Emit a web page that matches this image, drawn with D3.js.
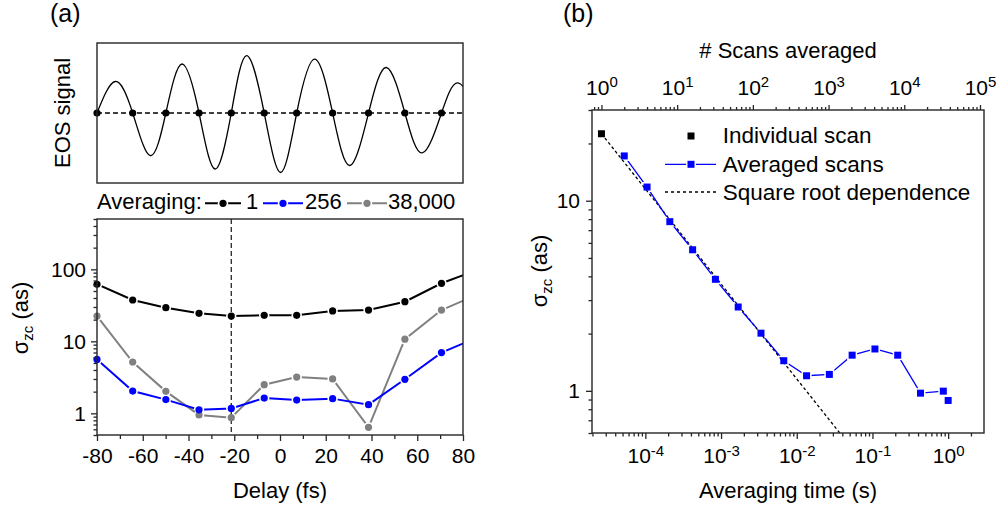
<!DOCTYPE html>
<html>
<head>
<meta charset="utf-8">
<script src="https://cdn.jsdelivr.net/npm/d3@7"></script>
<style>
  body { margin: 0; background: #fff; }
  svg { display: block; font-family: "Liberation Sans", Arial, sans-serif; }
</style>
</head>
<body>
<svg id="fig" width="1006" height="511"></svg>
<script>
// ---------------- Panel (a), top: EOS waveform ----------------
// zero crossings of the field (fs) and the extrema between them
const eosCrossings = [-80, -64.4, -49.9, -35.4, -21.3, -6.9, 7.3, 23.0, 38.7, 54.6, 70.6];
const eosExtremaDelay = [-72.0, -56.7, -42.9, -28.4, -14.6, 0.3, 15.2, 30.5, 46.5, 62.2, 77.8];
const eosExtremaSignal = [0.45, -0.61, 0.70, -0.80, 0.82, -0.85, 0.77, -0.75, 0.65, -0.57, 0.43];
const eosNextCrossing = 86.5; // first crossing past the right edge

// ---------------- Panel (a), bottom: jitter at each crossing ----------------
const crossingDelay = [-80, -64.4, -49.9, -35.4, -21.3, -6.9, 7.3, 23.0, 38.7, 54.6, 70.6, 86.5];
const sigmaAvg1 = [62, 37.5, 29.3, 24.5, 22.4, 23.0, 23.0, 26.4, 27.2, 35.5, 64, 99];
const sigmaAvg256 = [5.6, 2.04, 1.55, 1.12, 1.17, 1.63, 1.53, 1.60, 1.32, 2.97, 6.97, 11.4];
const sigmaAvg38000 = [22.4, 5.16, 2.02, 0.95, 0.87, 2.50, 3.19, 3.00, 0.64, 10.7, 27.2, 45];
const markedDelay = -21.3;
const averagingLabels = ["1", "256", "38,000"];
const averagingColors = ["#000000", "#0000ff", "#808080"];
const delayTicks = [-80, -60, -40, -20, 0, 20, 40, 60, 80];

// ---------------- Panel (b): jitter vs. number of averaged scans ----------------
const singleScans = [1];
const singleSigma = [22.5];
const averagedScans = [2, 4, 8, 16, 32, 64, 128, 256, 512, 1024, 2048, 4096, 8192, 16384, 32768, 38000];
const averagedSigma = [17.2, 11.8, 7.76, 5.52, 3.86, 2.76, 2.01, 1.44, 1.20, 1.22, 1.54, 1.66, 1.54, 0.972, 0.996, 0.89];
const sqrtScans = [1, 100000];
const sqrtSigma = [22.5, 0.0712];
const scanTime = 1 / 38000; // seconds per scan
const legendLabelsB = ["Individual scan", "Averaged scans", "Square root dependence"];

const W = 1006, H = 511;
const INK = "#262626";
const svg = d3.select("#fig");
const defs = svg.append("defs");

const isPow10 = v => Math.abs(Math.log10(v) - Math.round(Math.log10(v))) < 1e-9;

function clipRect(id, x, y, w, h) {
  defs.append("clipPath").attr("id", id)
    .append("rect").attr("x", x).attr("y", y).attr("width", w).attr("height", h);
}

// mask that opens a small gap in a line around each of its markers
function gapMask(id, pts, shape, size) {
  const m = defs.append("mask").attr("id", id)
    .attr("maskUnits", "userSpaceOnUse")
    .attr("x", 0).attr("y", 0).attr("width", W).attr("height", H);
  m.append("rect").attr("width", W).attr("height", H).attr("fill", "white");
  if (shape === "circle") {
    m.selectAll("circle").data(pts).join("circle")
      .attr("cx", d => d[0]).attr("cy", d => d[1]).attr("r", size).attr("fill", "black");
  } else {
    m.selectAll("rect.k").data(pts).join("rect").attr("class", "k")
      .attr("x", d => d[0] - size).attr("y", d => d[1] - size)
      .attr("width", 2 * size).attr("height", 2 * size).attr("fill", "black");
  }
}

function styleAxis(g, fontSize) {
  g.select(".domain").remove();
  g.selectAll(".tick line").attr("stroke", INK).attr("stroke-width", 1.3);
  g.selectAll(".tick text").attr("fill", "#000").attr("font-size", fontSize)
    .attr("font-family", "\"Liberation Sans\", Arial, sans-serif");
}

function shortenMinor(g, isMajor, attr, len) {
  g.selectAll(".tick").each(function (d) {
    if (!isMajor(d)) {
      d3.select(this).select("line").attr(attr, len);
      d3.select(this).select("text").remove();
    }
  });
}

// ======================= Panel (a) =======================
const xA = d3.scaleLinear().domain([-80, 80]).range([97, 463]);
const yEos = d3.scaleLinear().domain([-1, 1]).range([183, 43]);
const yA = d3.scaleLog().domain([0.5, 500]).range([435, 219]);

svg.append("text").attr("x", 50).attr("y", 22).attr("font-size", 25).text("(a)");

// --- EOS waveform box ---
clipRect("clipEos", 97, 43, 366, 140);
const eosPts = d3.sort([
  ...eosCrossings.map(d => [d, 0]),
  ...eosExtremaDelay.map((d, i) => [d, eosExtremaSignal[i]]),
  [eosNextCrossing, 0]
], p => p[0]);

const gEos = svg.append("g");
gEos.append("line")
  .attr("x1", xA(-80)).attr("x2", xA(80)).attr("y1", yEos(0)).attr("y2", yEos(0))
  .attr("stroke", "#000").attr("stroke-width", 1.3).attr("stroke-dasharray", "5,3");
gEos.append("path")
  .datum(eosPts)
  .attr("clip-path", "url(#clipEos)")
  .attr("fill", "none").attr("stroke", "#000").attr("stroke-width", 1.3)
  .attr("d", d3.line().x(d => xA(d[0])).y(d => yEos(d[1])).curve(d3.curveNatural));
gEos.selectAll("circle").data(eosCrossings).join("circle")
  .attr("cx", d => xA(d)).attr("cy", yEos(0)).attr("r", 3.6).attr("fill", "#000");
gEos.append("rect").attr("x", 97).attr("y", 43).attr("width", 366).attr("height", 140)
  .attr("fill", "none").attr("stroke", INK).attr("stroke-width", 1.4);
svg.append("text")
  .attr("transform", `translate(69.5,${(43 + 183) / 2}) rotate(-90)`)
  .attr("text-anchor", "middle").attr("font-size", 22).text("EOS signal");

// --- legend row ---
const legA = svg.append("g");
legA.append("text").attr("x", 97).attr("y", 209).attr("font-size", 22).text("Averaging:");
const legItems = [
  { x0: 205, x1: 241, tx: 246 },
  { x0: 263, x1: 303, tx: 305 },
  { x0: 347, x1: 387, tx: 388 }
];
legItems.forEach((it, i) => {
  const cx = (it.x0 + it.x1) / 2;
  const id = "legGapA" + i;
  gapMask(id, [[cx, 203.3]], "circle", 5.2);
  legA.append("line").attr("x1", it.x0).attr("x2", it.x1).attr("y1", 203.3).attr("y2", 203.3)
    .attr("stroke", averagingColors[i]).attr("stroke-width", 2).attr("mask", `url(#${id})`);
  legA.append("circle").attr("cx", cx).attr("cy", 203.3).attr("r", 3.6).attr("fill", averagingColors[i]);
  legA.append("text").attr("x", it.tx).attr("y", 209).attr("font-size", 22).text(averagingLabels[i]);
});

// --- jitter vs delay ---
clipRect("clipA", 97, 219, 366, 216);
const gA = svg.append("g");
gA.append("line")
  .attr("x1", xA(markedDelay)).attr("x2", xA(markedDelay)).attr("y1", 219).attr("y2", 435)
  .attr("stroke", INK).attr("stroke-width", 1.3).attr("stroke-dasharray", "5,3");

const seriesA = [sigmaAvg1, sigmaAvg38000, sigmaAvg256];
const seriesColorIdx = [0, 2, 1];
seriesA.forEach((vals, k) => {
  const color = averagingColors[seriesColorIdx[k]];
  const pts = crossingDelay.map((d, i) => [d, vals[i]]);
  const shown = pts.filter(p => p[0] >= -80 && p[0] <= 80);
  const id = "gapA" + k;
  gapMask(id, shown.map(p => [xA(p[0]), yA(p[1])]), "circle", 5.2);
  const g = gA.append("g").attr("clip-path", "url(#clipA)");
  g.append("path").datum(pts)
    .attr("fill", "none").attr("stroke", color).attr("stroke-width", 2)
    .attr("mask", `url(#${id})`)
    .attr("d", d3.line().x(d => xA(d[0])).y(d => yA(d[1])));
  gA.selectAll("circle.s" + k).data(shown).join("circle").attr("class", "s" + k)
    .attr("cx", d => xA(d[0])).attr("cy", d => yA(d[1])).attr("r", 3.6).attr("fill", color);
});

// axes (a)
const gxA = svg.append("g").attr("transform", "translate(0,435)")
  .call(d3.axisBottom(xA).tickValues(d3.range(-80, 81, 10)).tickSize(6).tickPadding(7).tickSizeOuter(0)
    .tickFormat(d3.format("d")));
styleAxis(gxA, 21);
shortenMinor(gxA, d => delayTicks.includes(d), "y2", 4);
gxA.selectAll(".tick text").text(d => String(d));

const gyA = svg.append("g").attr("transform", "translate(97,0)")
  .call(d3.axisLeft(yA).tickValues(yA.ticks()).tickSize(6).tickPadding(5).tickSizeOuter(0)
    .tickFormat(d => isPow10(d) ? String(Math.round(d)) : ""));
styleAxis(gyA, 21);
shortenMinor(gyA, isPow10, "x2", -3.5);
gyA.selectAll(".tick").filter(d => isPow10(d) && d < 1).select("text").remove();

svg.append("rect").attr("x", 97).attr("y", 219).attr("width", 366).attr("height", 216)
  .attr("fill", "none").attr("stroke", INK).attr("stroke-width", 1.4);

svg.append("text").attr("x", 280).attr("y", 498).attr("text-anchor", "middle")
  .attr("font-size", 22).text("Delay (fs)");

function sigmaTitle(x, y) {
  const t = svg.append("text")
    .attr("transform", `translate(${x},${y}) rotate(-90)`)
    .attr("text-anchor", "middle").attr("font-size", 22);
  t.append("tspan").text("σ");
  t.append("tspan").attr("font-size", 15).attr("dy", 5).text("zc");
  t.append("tspan").attr("dy", -5).text(" (as)");
}
sigmaTitle(27.5, 318);

// ======================= Panel (b) =======================
const xScans = d3.scaleLog().domain([0.75, 113000]).range([592, 984]);
const xTime = d3.scaleLog().domain(xScans.domain().map(d => d * scanTime)).range(xScans.range());
const yB = d3.scaleLog().domain([0.6, 30]).range([433, 110]);

svg.append("text").attr("x", 563).attr("y", 22).attr("font-size", 25).text("(b)");

clipRect("clipB", 592, 110, 392, 323);
const gB = svg.append("g");

// square-root reference
gB.append("path").datum(sqrtScans.map((s, i) => [s, sqrtSigma[i]]))
  .attr("clip-path", "url(#clipB)")
  .attr("fill", "none").attr("stroke", "#000").attr("stroke-width", 1.3).attr("stroke-dasharray", "3,2.5")
  .attr("d", d3.line().x(d => xScans(d[0])).y(d => yB(d[1])));

// averaged scans
const avgPts = averagedScans.map((s, i) => [s, averagedSigma[i]]);
gapMask("gapB", avgPts.map(p => [xScans(p[0]), yB(p[1])]), "rect", 5);
gB.append("path").datum(avgPts)
  .attr("fill", "none").attr("stroke", "#0000ff").attr("stroke-width", 1.3)
  .attr("mask", "url(#gapB)")
  .attr("d", d3.line().x(d => xScans(d[0])).y(d => yB(d[1])));
gB.selectAll("rect.avg").data(avgPts).join("rect").attr("class", "avg")
  .attr("x", d => xScans(d[0]) - 3.5).attr("y", d => yB(d[1]) - 3.5)
  .attr("width", 7).attr("height", 7).attr("fill", "#0000ff");

// individual scan
gB.selectAll("rect.single").data(singleScans.map((s, i) => [s, singleSigma[i]])).join("rect")
  .attr("class", "single")
  .attr("x", d => xScans(d[0]) - 3.5).attr("y", d => yB(d[1]) - 3.5)
  .attr("width", 7).attr("height", 7).attr("fill", "#000");

// legend (b)
const legB = svg.append("g");
legB.append("rect").attr("x", 691 - 3.5).attr("y", 136 - 3.5).attr("width", 7).attr("height", 7).attr("fill", "#000");
gapMask("legGapB", [[691, 164.3]], "rect", 5);
legB.append("line").attr("x1", 665).attr("x2", 716).attr("y1", 164.3).attr("y2", 164.3)
  .attr("stroke", "#0000ff").attr("stroke-width", 1.3).attr("mask", "url(#legGapB)");
legB.append("rect").attr("x", 691 - 3.5).attr("y", 164.3 - 3.5).attr("width", 7).attr("height", 7).attr("fill", "#0000ff");
legB.append("line").attr("x1", 665).attr("x2", 716).attr("y1", 192).attr("y2", 192)
  .attr("stroke", "#000").attr("stroke-width", 1.3).attr("stroke-dasharray", "3,3");
[143.3, 171.7, 199.8].forEach((y, i) => {
  legB.append("text").attr("x", 722.7).attr("y", y).attr("font-size", 22.5).text(legendLabelsB[i]);
});

// power-of-ten labels with superscript exponents
function powLabels(g, expDy) {
  g.selectAll(".tick text").each(function (d) {
    const t = d3.select(this);
    t.text("");
    if (!isPow10(d)) return;
    const e = Math.round(Math.log10(d));
    t.append("tspan").text("10");
    t.append("tspan").attr("font-size", 15).attr("dy", expDy).text(String(e));
  });
}

const gxTop = svg.append("g").attr("transform", "translate(0,110)")
  .call(d3.axisTop(xScans).tickValues(xScans.ticks()).tickSize(5).tickPadding(10.5).tickSizeOuter(0));
styleAxis(gxTop, 21);
shortenMinor(gxTop, isPow10, "y2", -3);
powLabels(gxTop, -8);

const gxBot = svg.append("g").attr("transform", "translate(0,433)")
  .call(d3.axisBottom(xTime).tickValues(xTime.ticks()).tickSize(6).tickPadding(9.5).tickSizeOuter(0));
styleAxis(gxBot, 21);
shortenMinor(gxBot, isPow10, "y2", 3.5);
powLabels(gxBot, -7);

const gyB = svg.append("g").attr("transform", "translate(592,0)")
  .call(d3.axisLeft(yB).tickValues(yB.ticks()).tickSize(6).tickPadding(6).tickSizeOuter(0)
    .tickFormat(d => isPow10(d) ? String(Math.round(d)) : ""));
styleAxis(gyB, 21);
shortenMinor(gyB, isPow10, "x2", -3.5);

svg.append("rect").attr("x", 592).attr("y", 110).attr("width", 392).attr("height", 323)
  .attr("fill", "none").attr("stroke", INK).attr("stroke-width", 1.4);

svg.append("text").attr("x", 788).attr("y", 58.3).attr("text-anchor", "middle")
  .attr("font-size", 22).text("# Scans averaged");
svg.append("text").attr("x", 788).attr("y", 498.3).attr("text-anchor", "middle")
  .attr("font-size", 22).text("Averaging time (s)");
sigmaTitle(546.5, 271);
</script>
</body>
</html>
